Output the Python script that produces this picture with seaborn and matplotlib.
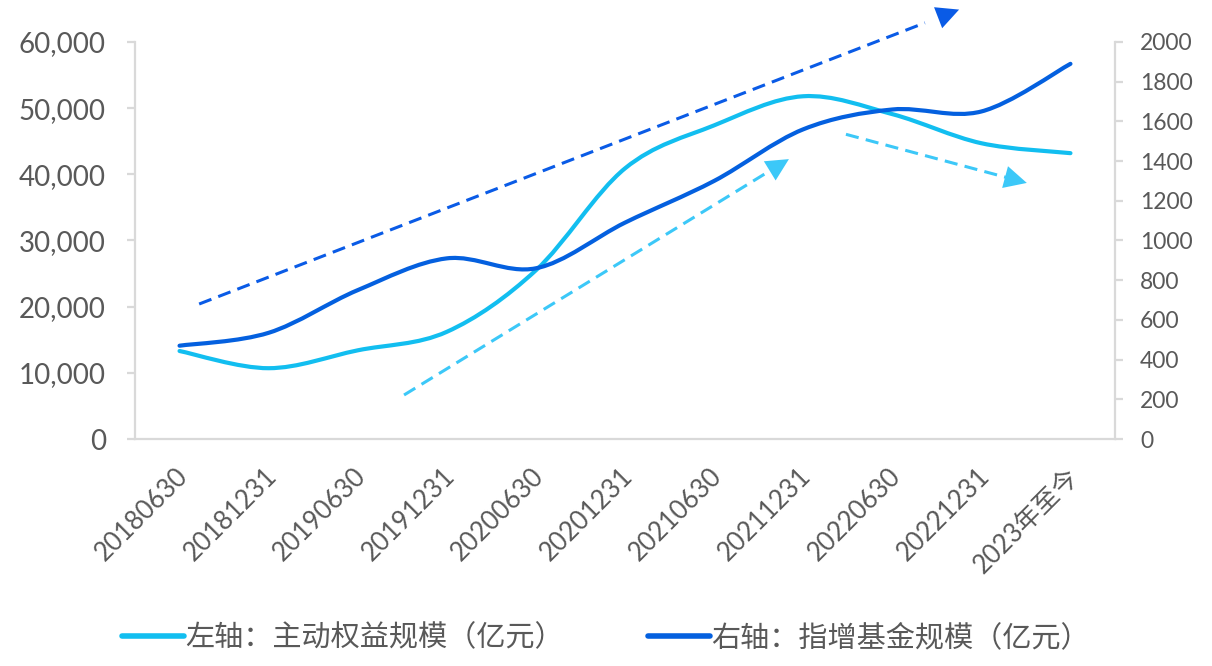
import numpy as np
import seaborn as sns
from matplotlib import pyplot as plt
from matplotlib import transforms
from matplotlib.path import Path
from matplotlib.patches import PathPatch
from matplotlib.lines import Line2D

# categories and series
dates = ['20180630', '20181231', '20190630', '20191231', '20200630', '20201231',
         '20210630', '20211231', '20220630', '20221231', '2023年至今']
active_equity = [13300, 10700, 13400, 16200, 25500, 40900, 47400, 51800, 49100, 44700, 43200]  # left axis
index_enhanced = [470, 535, 750, 910, 860, 1090, 1300, 1560, 1660, 1650, 1890]  # right axis

left_ticks = [0, 10000, 20000, 30000, 40000, 50000, 60000]
right_ticks = [0, 200, 400, 600, 800, 1000, 1200, 1400, 1600, 1800, 2000]

label_left = '左轴：主动权益规模（亿元）'
label_right = '右轴：指增基金规模（亿元）'

# trend arrows (start, end) in category index / left-axis units
trend_up_big = [(0.22, 20400), (8.75, 64900)]
trend_up_small = [(2.52, 6650), (6.84, 42300)]
trend_down = [(7.48, 46050), (9.51, 38700)]

c_light = '#12BEF0'
c_dark = '#0460DF'
c_dash_dark = '#0A5BE6'
c_dash_light = '#3CC8F8'
c_text = '#595959'
c_axis = '#D9D9D9'

sns.set_style('white')
plt.rcParams['font.family'] = ['Lato', 'Noto Sans CJK SC']


# excel style smoothed line: catmull-rom converted to bezier control points
def smooth_path(xs, ys):
    pts = np.column_stack([xs, ys]).astype(float)
    n = len(pts)
    verts = [pts[0]]
    codes = [Path.MOVETO]
    for i in range(n - 1):
        p0 = pts[i - 1] if i > 0 else pts[i]
        p1 = pts[i]
        p2 = pts[i + 1]
        p3 = pts[i + 2] if i + 2 < n else pts[i + 1]
        verts += [p1 + (p2 - p0) / 6, p2 - (p3 - p1) / 6, p2]
        codes += [Path.CURVE4] * 3
    return Path(verts, codes)


def trend_arrow(ax, seg, color):
    (x0, y0), (x1, y1) = seg
    # shaft stops a bit before the tip, head drawn solid
    xb = x0 + (x1 - x0) * 0.955
    yb = y0 + (y1 - y0) * 0.955
    ax.plot([x0, xb], [y0, yb], color=color, lw=2.2, dashes=(4.3, 2.4), clip_on=False, zorder=4)
    ax.annotate('', xy=(x1, y1), xytext=(xb, yb), annotation_clip=False,
                arrowprops=dict(arrowstyle='-|>,head_length=0.9,head_width=0.45', color=color,
                                lw=0, mutation_scale=18, shrinkA=0, shrinkB=0), zorder=5)


fig = plt.figure(figsize=(12.12, 6.66), dpi=100)
ax = fig.add_axes([135 / 1212, 1 - 439 / 666, 980 / 1212, 397 / 666])
ax2 = ax.twinx()

x = np.arange(len(dates))
ax.add_patch(PathPatch(smooth_path(x, active_equity), facecolor='none', edgecolor=c_light,
                       lw=3, capstyle='round', zorder=3))
ax2.add_patch(PathPatch(smooth_path(x, index_enhanced), facecolor='none', edgecolor=c_dark,
                        lw=3, capstyle='round', zorder=3))

ax.set_xlim(-0.5, len(dates) - 0.5)
ax.set_ylim(0, 60000)
ax2.set_ylim(0, 2000)

trend_arrow(ax, trend_up_big, c_dash_dark)
trend_arrow(ax, trend_up_small, c_dash_light)
trend_arrow(ax, trend_down, c_dash_light)

# axes styling
for a in (ax, ax2):
    for s in a.spines.values():
        s.set_visible(False)
ax.spines['left'].set_visible(True)
ax.spines['bottom'].set_visible(True)
ax2.spines['right'].set_visible(True)
for s in (ax.spines['left'], ax.spines['bottom'], ax2.spines['right']):
    s.set_color(c_axis)
    s.set_linewidth(1.6)

ax.set_yticks(left_ticks)
ax.set_yticklabels([f'{v:,}' for v in left_ticks])
ax.tick_params(axis='y', length=6, width=1.6, color=c_axis, labelcolor=c_text, labelsize=20, pad=15)

ax2.set_yticks(right_ticks)
ax2.set_yticklabels([str(v) for v in right_ticks])
ax2.tick_params(axis='y', length=6, width=1.6, color=c_axis, labelcolor=c_text, labelsize=16.5, pad=12)

ax.set_xticks(x)
ax.set_xticklabels(dates, rotation=45, ha='right', va='center', rotation_mode='anchor')
ax.set_xticks(np.arange(-0.5, len(dates)), minor=True)
ax.tick_params(axis='x', which='major', length=0, labelcolor=c_text, labelsize=18.5, pad=24)
ax.tick_params(axis='x', which='minor', length=7, width=1.6, color=c_axis)
shift = transforms.ScaledTranslation(4 / 100, 0, fig.dpi_scale_trans)
for lab in ax.get_xticklabels():
    lab.set_transform(lab.get_transform() + shift)

handles = [Line2D([], [], color=c_light, lw=4), Line2D([], [], color=c_dark, lw=4)]
leg = fig.legend(handles, [label_left, label_right], loc='center', bbox_to_anchor=(0.5, 0.043),
                 ncol=2, frameon=False, fontsize=21, handlelength=2.1, handletextpad=0.05,
                 columnspacing=2.9)
for t in leg.get_texts():
    t.set_color(c_text)

fig.savefig('out.png', dpi=100)
